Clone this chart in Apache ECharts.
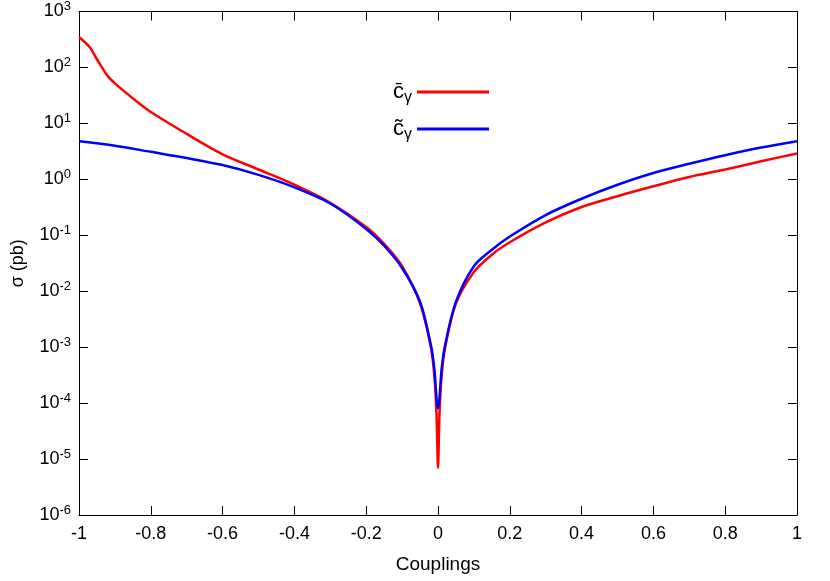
<!DOCTYPE html>
<html>
<head>
<meta charset="utf-8">
<script src="https://cdn.jsdelivr.net/npm/echarts@6/dist/echarts.min.js"></script>
<style>html,body{margin:0;padding:0;background:#fff}#chart{width:830px;height:581px}</style>
</head>
<body>
<div id="chart"></div>
<script>
// couplings (x) and cross sections in pb
var xRed = [-1, -0.97, -0.95, -0.92, -0.9, -0.85, -0.8, -0.7, -0.6, -0.5, -0.4, -0.3, -0.2, -0.15, -0.1, -0.05, -0.02, -0.01, -0.004, 0, 0.004, 0.01, 0.02, 0.05, 0.1, 0.15, 0.2, 0.3, 0.4, 0.5, 0.6, 0.7, 0.8, 0.9, 1];
var yRed = [350, 230, 140, 70, 52, 28, 16, 6.5, 2.8, 1.5, 0.8, 0.38, 0.14, 0.07, 0.028, 0.006, 0.001, 0.0003, 0.00006, 0.000007, 0.00006, 0.0003, 0.001, 0.006, 0.022, 0.045, 0.075, 0.17, 0.32, 0.5, 0.75, 1.1, 1.5, 2.1, 2.9];
var xBlue = [-1, -0.9, -0.8, -0.7, -0.6, -0.5, -0.4, -0.3, -0.2, -0.15, -0.1, -0.05, -0.02, -0.01, -0.004, 0, 0.004, 0.01, 0.02, 0.05, 0.1, 0.15, 0.2, 0.3, 0.4, 0.5, 0.6, 0.7, 0.8, 0.9, 1];
var yBlue = [4.8, 4.0, 3.1, 2.4, 1.8, 1.2, 0.72, 0.37, 0.13, 0.065, 0.026, 0.0065, 0.0011, 0.0004, 0.00012, 0.00008, 0.00012, 0.0004, 0.0011, 0.0065, 0.028, 0.055, 0.095, 0.23, 0.45, 0.8, 1.3, 1.9, 2.7, 3.7, 4.8];

function pairs(xs, ys){
	var d = [];
	for(var i=0;i<xs.length;i++) d.push([xs[i], ys[i]]);
	return d;
}
function powLabel(v){
	var e = Math.round(Math.log10(v));
	return '{b|10}{s|' + e + '}';
}
var font = 'Liberation Sans, Arial, sans-serif';
var axisCommon = {
	axisLine:{show:true, onZero:false, lineStyle:{color:'#000', width:1}},
	axisTick:{show:true, inside:true, length:9, lineStyle:{color:'#000'}},
	splitLine:{show:false}
};

var myChart = echarts.init(document.getElementById('chart'));
var option = {
	animation:false,
	textStyle:{fontFamily:font},
	grid:{left:79, right:33, top:7, bottom:66},
	legend:{
		top:76, left:388, orient:'vertical', align:'right', itemGap:12,
		itemWidth:72, itemHeight:3,
		icon:'rect',
		data:['bar','tilde'],
		formatter:function(n){ return n=='bar' ? '{c|c̄}{g|γ}' : '{c|c̃}{g|γ}'; },
		textStyle:{rich:{
			c:{fontSize:22, fontFamily:font, color:'#000'},
			g:{fontSize:16, fontFamily:font, color:'#000', padding:[12,0,0,0]}
		}}
	},
	xAxis:[
		Object.assign({
			type:'value', min:-1, max:1, interval:0.2,
			name:'Couplings', nameLocation:'middle', nameGap:40,
			nameTextStyle:{fontSize:19, color:'#000'},
			axisLabel:{fontSize:18, color:'#000', margin:10, formatter:function(v){ return String(Math.round(v*10)/10); }}
		}, axisCommon),
		Object.assign({type:'value', min:-1, max:1, interval:0.2, position:'top', axisLabel:{show:false}}, axisCommon)
	],
	yAxis:[
		Object.assign({
			type:'log', min:1e-6, max:1e3, logBase:10,
			name:'σ (pb)', nameLocation:'middle', nameGap:52,
			nameTextStyle:{fontSize:18, color:'#000'},
			axisLabel:{color:'#000', formatter:powLabel, rich:{
				b:{fontSize:18, fontFamily:font, color:'#000'},
				s:{fontSize:13, fontFamily:font, color:'#000', padding:[0,0,10,0]}
			}}
		}, axisCommon),
		Object.assign({type:'log', min:1e-6, max:1e3, position:'right', axisLabel:{show:false}}, axisCommon)
	],
	series:[
		{name:'bar', type:'line', smooth:0.3, showSymbol:false, data:pairs(xRed, yRed), lineStyle:{color:'#ff0000', width:2.5}, itemStyle:{color:'#ff0000'}},
		{name:'tilde', type:'line', smooth:0.3, showSymbol:false, data:pairs(xBlue, yBlue), lineStyle:{color:'#0000ff', width:2.5}, itemStyle:{color:'#0000ff'}}
	]
};
myChart.setOption(option);
</script>
</body>
</html>
